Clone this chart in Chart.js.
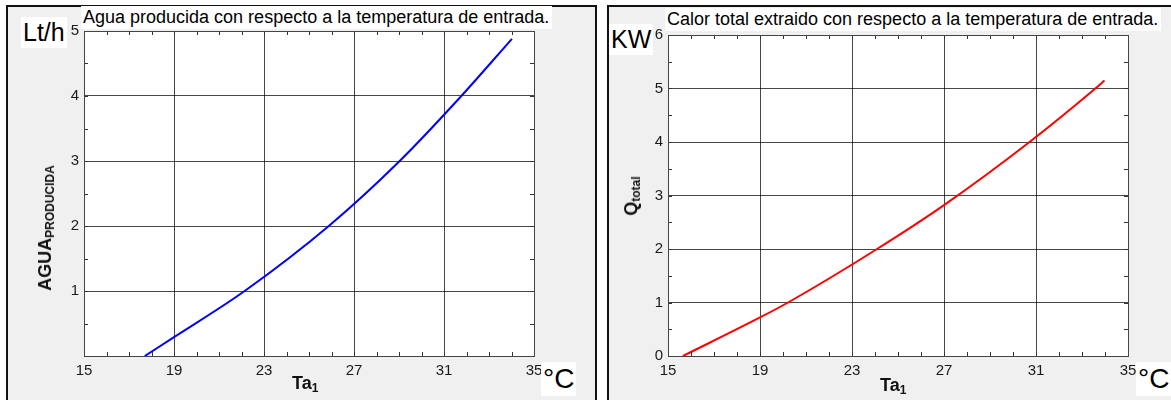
<!DOCTYPE html>
<html lang="es">
<head>
<meta charset="utf-8">
<script src="https://cdn.jsdelivr.net/npm/chart.js@4.4.1/dist/chart.umd.min.js"></script>
<style>
  body { margin: 0; width: 1171px; height: 400px; overflow: hidden; background: #fff; position: relative; font-family: "Liberation Sans", Arial, sans-serif; }
  .caption { position: absolute; left: 10px; top: -27px; width: 1160px; font: bold 26px/26px "Liberation Sans", Arial, sans-serif; text-align: justify; text-align-last: justify; white-space: nowrap; }
  .panel { position: absolute; top: 5px; height: 400px; background: #f0f0f0; border: 2px solid #111; box-sizing: border-box; }
  canvas { position: absolute; top: 0; }
  .box { position: absolute; background: #fff; color: #000; white-space: nowrap; line-height: 1; }
  .title { font-size: 18px; padding: 2px 3px 3px 2px; }
  .unit { font-size: 25px; padding: 3px 2px; }
  .axt { position: absolute; font-weight: bold; color: #111; white-space: nowrap; line-height: 1; }
  .axt sub { font-size: 12px; vertical-align: -3px; }
  .rot { transform: translate(-50%, -50%) rotate(-90deg); }
</style>
</head>
<body>
<div class="caption">Figura 4.7 Agua producida y calor total extraído con respecto a la temperatura de entrada y</div>
<div class="panel" style="left:6px; width:591px;"></div>
<div class="panel" style="left:607px; width:570px;"></div>

<canvas id="aguaChart" width="600" height="400" style="left:0"></canvas>
<canvas id="calorChart" width="571" height="400" style="left:600px"></canvas>

<div class="box title" style="left:81px; top:6px;">Agua producida con respecto a la temperatura de entrada.</div>
<div class="box unit" style="left:21px; top:17px;">Lt/h</div>
<div class="box unit" style="left:541px; top:362px; font-size:28px;">°C</div>
<div class="axt rot" style="left:46px; top:228px; font-size:18px;">AGUA<sub>PRODUCIDA</sub></div>
<div class="axt" style="left:292px; top:374px; font-size:18px;">Ta<sub>1</sub></div>

<div class="box title" style="left:665px; top:8px;">Calor total extraido con respecto a la temperatura de entrada.</div>
<div class="box unit" style="left:609px; top:24px;">KW</div>
<div class="box unit" style="left:1136px; top:362px; font-size:28px;">°C</div>
<div class="axt rot" style="left:632px; top:196px; font-size:18px;">Q<sub>total</sub></div>
<div class="axt" style="left:880px; top:376px; font-size:18px;">Ta<sub>1</sub></div>

<script>
// Agua producida (Lt/h) vs temperatura de entrada Ta1 (°C)
const aguaTemp = [17.7, 19, 22.14, 25.88, 29.03, 31.77, 34.02];
const aguaVal  = [0, 0.29, 1, 2, 3, 4, 4.88];

// Calor total extraido (KW) vs temperatura de entrada Ta1 (°C)
const calorTemp = [15.65, 19, 20.22, 24.09, 27, 30.72, 33.58, 33.98];
const calorVal  = [0, 0.72, 1, 2, 2.82, 4, 5, 5.15];

// axis ranges / tick steps
const xRange = [15, 35];
const xStep = 4;
const aguaRange = [0, 5];
const calorRange = [0, 6];

const gridColor = 'rgba(0,0,0,0.72)';
const tickFont = { family: '"Liberation Sans", Arial, sans-serif', size: 15 };

// white plot area, frame and small inward minor ticks
const framePlugin = {
  id: 'frame',
  beforeDraw(chart) {
    const a = chart.chartArea;
    const ctx = chart.ctx;
    ctx.save();
    ctx.fillStyle = '#fff';
    ctx.fillRect(a.left, a.top, a.right - a.left, a.bottom - a.top);
    ctx.restore();
  },
  afterDraw(chart) {
    const a = chart.chartArea;
    const ctx = chart.ctx;
    const xs = chart.scales.x;
    const ys = chart.scales.y;
    ctx.save();
    ctx.strokeStyle = '#333';
    ctx.lineWidth = 1;
    ctx.beginPath();
    for (let v = xs.min; v <= xs.max; v += 1) {
      const px = Math.round(xs.getPixelForValue(v)) + 0.5;
      ctx.moveTo(px, a.top); ctx.lineTo(px, a.top + 4);
      ctx.moveTo(px, a.bottom); ctx.lineTo(px, a.bottom - 4);
    }
    for (let v = ys.min; v <= ys.max; v += 0.5) {
      const py = Math.round(ys.getPixelForValue(v)) + 0.5;
      ctx.moveTo(a.left, py); ctx.lineTo(a.left + 4, py);
      ctx.moveTo(a.right, py); ctx.lineTo(a.right - 4, py);
    }
    ctx.stroke();
    ctx.strokeStyle = '#444';
    ctx.strokeRect(Math.round(a.left) + 0.5, Math.round(a.top) + 0.5,
      Math.round(a.right - a.left), Math.round(a.bottom - a.top));
    ctx.restore();
  }
};

function makeChart(id, temps, vals, color, yRange, area, hideZero) {
  const el = document.getElementById(id);
  return new Chart(el, {
    type: 'line',
    data: {
      datasets: [{
        data: temps.map((t, i) => ({ x: t, y: vals[i] })),
        borderColor: color,
        borderWidth: 2,
        pointRadius: 0,
        cubicInterpolationMode: 'monotone',
        fill: false
      }]
    },
    options: {
      responsive: false,
      animation: false,
      devicePixelRatio: 1,
      layout: { padding: { top: area.top, right: el.width - area.right, left: 0, bottom: 0 } },
      plugins: { legend: { display: false }, tooltip: { enabled: false } },
      scales: {
        x: {
          type: 'linear', min: xRange[0], max: xRange[1],
          afterFit: (s) => { s.height = el.height - area.bottom; },
          border: { display: false },
          grid: { color: gridColor, drawTicks: false },
          ticks: { stepSize: xStep, padding: 6, color: '#1a1a1a', font: tickFont, maxRotation: 0 }
        },
        y: {
          type: 'linear', min: yRange[0], max: yRange[1],
          afterFit: (s) => { s.width = area.left; },
          border: { display: false },
          grid: { color: gridColor, drawTicks: false },
          ticks: {
            stepSize: 1, padding: 5, color: '#1a1a1a', font: tickFont,
            callback: (v) => (hideZero && v === 0 ? '' : v)
          }
        }
      }
    },
    plugins: [framePlugin]
  });
}

makeChart('aguaChart', aguaTemp, aguaVal, '#0000ff', aguaRange,
  { left: 84, top: 31, right: 534, bottom: 356 }, true);
makeChart('calorChart', calorTemp, calorVal, '#ff0000', calorRange,
  { left: 68, top: 35, right: 528, bottom: 356 }, false);
</script>
</body>
</html>
